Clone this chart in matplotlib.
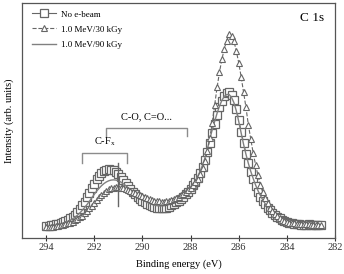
import numpy as np
import matplotlib
matplotlib.use('Agg')
import matplotlib.pyplot as plt

# Binding energy grid (eV), 0.1 eV step from 294.0 down to 282.6
energy = np.round(np.arange(294.0, 282.55, -0.1), 1)

# Intensity (arb. units)
no_ebeam = [
  5.0, 5.1, 5.2, 5.4, 5.6, 5.9, 6.3, 6.7, 7.1, 7.6,
  8.2, 8.9, 9.8, 10.9, 12.2, 13.7, 15.3, 17.1, 19.0, 21.0,
  23.0, 24.8, 26.3, 27.5, 28.4, 28.9, 29.1, 29.0, 28.6, 27.9,
  27.0, 25.9, 24.6, 23.3, 22.0, 20.8, 19.6, 18.5, 17.5, 16.6,
  15.8, 15.1, 14.5, 14.0, 13.5, 13.1, 12.8, 12.6, 12.5, 12.6,
  12.8, 13.2, 13.7, 14.3, 15.0, 15.8, 16.6, 17.5, 18.5, 19.6,
  20.8, 22.2, 23.8, 25.6, 27.7, 30.2, 33.1, 36.5, 40.3, 44.4,
  48.4, 52.2, 55.5, 58.3, 60.5, 61.8, 62.0, 60.8, 58.6, 55.0,
  50.2, 45.2, 40.3, 35.8, 31.7, 28.0, 24.8, 22.0, 19.6, 17.5,
  15.7, 14.2, 12.8, 11.6, 10.6, 9.7, 8.9, 8.2, 7.6, 7.1,
  6.7, 6.4, 6.1, 5.9, 5.7, 5.6, 5.5, 5.4, 5.5, 5.6,
  5.5, 5.4, 5.3, 5.3, 5.3]

mev_30kgy = [
  4.4, 4.5, 4.6, 4.7, 4.9, 5.1, 5.3, 5.5, 5.8, 6.1,
  6.4, 6.8, 7.3, 7.9, 8.6, 9.4, 10.3, 11.3, 12.4, 13.6,
  14.8, 16.0, 17.2, 18.3, 19.2, 20.0, 20.6, 21.0, 21.3, 21.4,
  21.4, 21.3, 21.1, 20.8, 20.4, 20.0, 19.6, 19.1, 18.6, 18.1,
  17.6, 17.2, 16.8, 16.4, 16.1, 15.8, 15.6, 15.4, 15.3, 15.3,
  15.4, 15.6, 15.9, 16.3, 16.8, 17.4, 18.0, 18.7, 19.4, 20.2,
  21.1, 22.2, 23.5, 25.1, 27.1, 29.6, 32.8, 37.0, 42.5, 49.0,
  56.5, 64.0, 70.5, 76.0, 80.5, 84.0, 86.8, 86.0, 83.8, 79.5,
  74.5, 68.5, 62.0, 55.5, 48.0, 42.0, 36.0, 31.0, 26.5, 22.5,
  19.3, 16.7, 14.6, 12.8, 11.3, 10.1, 9.1, 8.3, 7.6, 7.1,
  6.7, 6.4, 6.2, 6.0, 5.9, 5.8, 5.7, 5.6, 5.6, 5.6,
  5.5, 5.5, 5.4, 5.4, 5.4]

mev_90kgy = [
  4.7, 4.8, 4.9, 5.1, 5.3, 5.5, 5.8, 6.1, 6.5, 6.9,
  7.4, 8.0, 8.7, 9.5, 10.5, 11.6, 12.8, 14.1, 15.5, 17.0,
  18.4, 19.8, 21.0, 22.1, 23.0, 23.7, 24.2, 24.5, 24.6, 24.5,
  24.2, 23.7, 23.0, 22.2, 21.3, 20.4, 19.5, 18.6, 17.7, 16.9,
  16.2, 15.6, 15.0, 14.5, 14.1, 13.8, 13.6, 13.5, 13.5, 13.6,
  13.8, 14.1, 14.5, 15.0, 15.6, 16.3, 17.1, 18.0, 19.0, 20.1,
  21.3, 22.7, 24.3, 26.2, 28.4, 31.0, 34.1, 37.8, 42.0, 46.0,
  49.5, 53.0, 56.0, 58.5, 60.2, 61.0, 61.0, 59.8, 57.5, 54.0,
  49.5, 44.6, 39.8, 35.5, 31.6, 28.2, 25.2, 22.4, 20.0, 17.9,
  16.0, 14.4, 12.9, 11.7, 10.6, 9.7, 8.9, 8.2, 7.6, 7.1,
  6.7, 6.4, 6.1, 5.9, 5.7, 5.6, 5.5, 5.4, 5.4, 5.4,
  5.3, 5.3, 5.3, 5.2, 5.2]

labels = ['No e-beam', '1.0 MeV/30 kGy', '1.0 MeV/90 kGy']
xticks = [294, 292, 290, 288, 286, 284, 282]

# Regions marked on the spectrum
cfx_range = (292.5, 290.65)
co_range = (291.5, 288.15)
cfx_center = 291.0

plt.rcParams['font.family'] = ['Liberation Serif', 'DejaVu Serif']

fig = plt.figure(figsize=(3.44, 2.74), dpi=100)
ax = fig.add_axes([0.064, 0.133, 0.910, 0.856])

grey = '#666666'
ax.plot(energy, no_ebeam, '-', color=grey, lw=0.8, marker='s', ms=5.5,
        mfc='white', mec=grey, mew=0.9, label=labels[0])
ax.plot(energy, mev_90kgy, '-', color='#808080', lw=1.0, label=labels[2])
ax.plot(energy, mev_30kgy, '--', color=grey, lw=0.8, marker='^', ms=4.3,
        mfc='white', mec=grey, mew=0.8, label=labels[1])

# Brackets
bc = '#8c8c8c'
ax.plot([cfx_range[0], cfx_range[0], cfx_range[1], cfx_range[1]],
        [32, 35.9, 35.9, 32], color=bc, lw=1.0)
ax.text(np.mean(cfx_range), 38, 'C-F$_\\mathregular{x}$', ha='center',
        va='bottom', fontsize=7.5)
ax.plot([co_range[0], co_range[0], co_range[1], co_range[1]],
        [43.5, 46.6, 46.6, 43.5], color=bc, lw=1.0)
ax.text(np.mean(co_range), 49.5, 'C-O, C=O...', ha='center', va='bottom',
        fontsize=7.5)
ax.plot([cfx_center, cfx_center], [13.5, 31.8], color='#666666', lw=1.0)

ax.text(0.965, 0.935, 'C 1s', transform=ax.transAxes, ha='right',
        va='center', fontsize=9.5)

ax.set_xlim(295, 282)
ax.set_ylim(0, 100)
ax.set_xticks(xticks)
ax.set_yticks([])
ax.tick_params(axis='x', direction='inout', length=4, width=0.8,
               labelsize=7.5, pad=2, colors='#333333')
for s in ax.spines.values():
  s.set_color('#555555')
  s.set_linewidth(0.9)

ax.set_xlabel('Binding energy (eV)', fontsize=7.5, labelpad=5)
ax.set_ylabel('Intensity (arb. units)', fontsize=7.5, labelpad=6)

handles, labs = ax.get_legend_handles_labels()
order = [0, 2, 1]
ax.legend([handles[i] for i in order], [labs[i] for i in order],
          loc='upper left', bbox_to_anchor=(0.01, 1.0), frameon=False,
          fontsize=6.5, handlelength=2.6, handletextpad=0.6,
          labelspacing=0.75, borderaxespad=0.4)

fig.savefig('out.png', dpi=100)
